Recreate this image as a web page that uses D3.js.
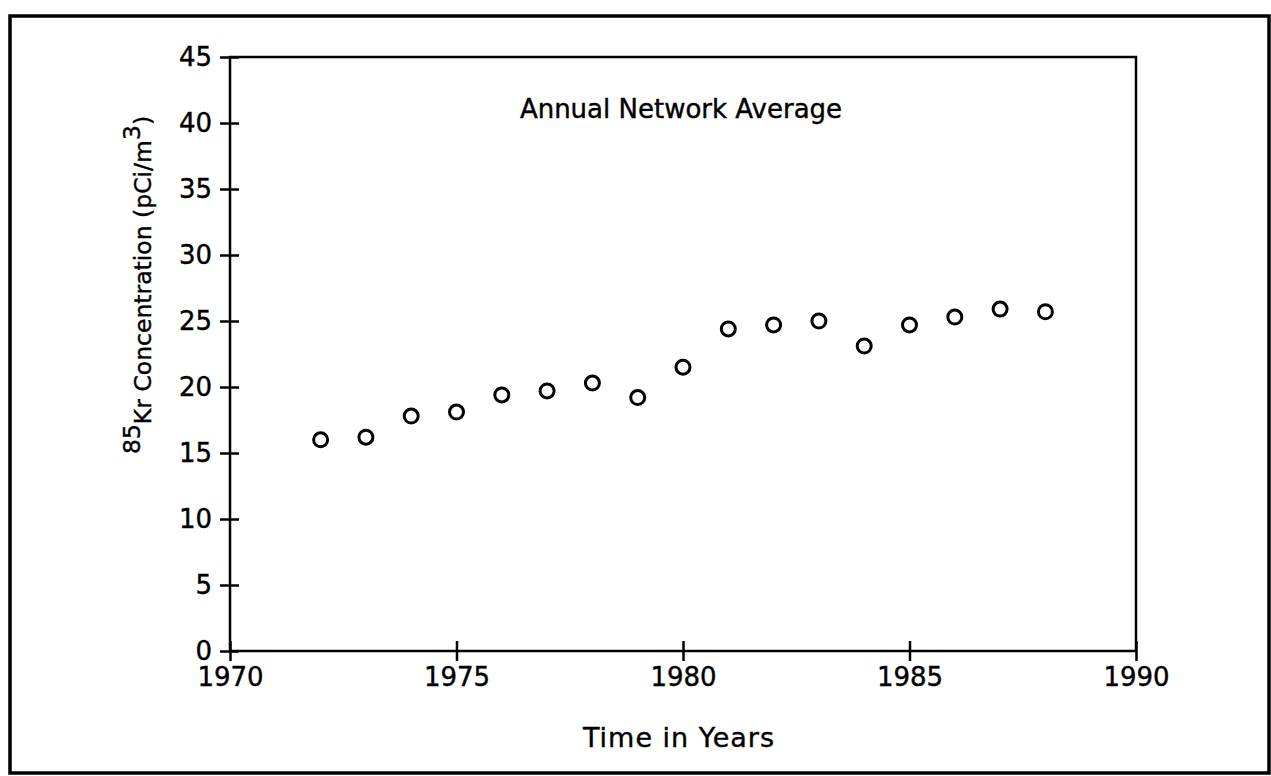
<!DOCTYPE html>
<html>
<head>
<meta charset="utf-8">
<script src="https://cdn.jsdelivr.net/npm/d3@7"></script>
<style>
  body { margin: 0; background: #fff; }
  svg text { font-family: "DejaVu Sans", sans-serif; fill: #000; stroke: #000; stroke-width: 0.4px; }
</style>
</head>
<body>
<svg id="chart" width="1271" height="776"></svg>
<script>
const years = [1972,1973,1974,1975,1976,1977,1978,1979,1980,1981,1982,1983,1984,1985,1986,1987,1988];
const concentration = [16.0,16.2,17.8,18.1,19.4,19.7,20.3,19.2,21.5,24.4,24.7,25.0,23.1,24.7,25.3,25.9,25.7];
const xTicks = [1970,1975,1980,1985,1990];
const yTicks = [0,5,10,15,20,25,30,35,40,45];

const FONT = "'DejaVu Sans', sans-serif";
const svg = d3.select("#chart");
const margin = {left: 230, right: 1136, top: 57, bottom: 651};

const x = d3.scaleLinear().domain([1970, 1990]).range([margin.left, margin.right]);
const y = d3.scaleLinear().domain([0, 45]).range([margin.bottom, margin.top]);

// outer frame
svg.append("rect")
  .attr("x", 10).attr("y", 16).attr("width", 1259).attr("height", 757)
  .attr("fill", "none").attr("stroke", "#000").attr("stroke-width", 3.5);

// plot box
svg.append("rect")
  .attr("x", margin.left).attr("y", margin.top)
  .attr("width", margin.right - margin.left).attr("height", margin.bottom - margin.top)
  .attr("fill", "none").attr("stroke", "#000").attr("stroke-width", 2.5);

// x axis
const xAxis = svg.append("g").attr("transform", `translate(0,${margin.bottom})`)
  .call(d3.axisBottom(x).tickValues(xTicks).tickFormat(d3.format("d")).tickSize(10).tickPadding(7));
xAxis.attr("font-size", null).attr("font-family", null);
xAxis.select(".domain").remove();
xAxis.selectAll(".tick line").attr("y1", -10).attr("stroke-width", 2.5);
xAxis.selectAll(".tick text").attr("font-size", 26).style("font-family", FONT);

// y axis
const yAxis = svg.append("g").attr("transform", `translate(${margin.left},0)`)
  .call(d3.axisLeft(y).tickValues(yTicks).tickSize(10).tickPadding(8));
yAxis.attr("font-size", null).attr("font-family", null);
yAxis.select(".domain").remove();
yAxis.selectAll(".tick line").attr("x1", -10).attr("x2", 9).attr("stroke-width", 2.5);
yAxis.selectAll(".tick text").attr("font-size", 26).style("font-family", FONT);

// points
svg.append("g").selectAll("circle")
  .data(years.map((d, i) => ({year: d, v: concentration[i]})))
  .join("circle")
  .attr("cx", d => x(d.year)).attr("cy", d => y(d.v))
  .attr("r", 7).attr("fill", "none").attr("stroke", "#000").attr("stroke-width", 3);

// title inside plot
svg.append("text").attr("x", 681).attr("y", 118).attr("text-anchor", "middle")
  .attr("font-size", 26).style("font-family", FONT).text("Annual Network Average");

// x label
svg.append("text").attr("x", 679).attr("y", 747).attr("text-anchor", "middle")
  .attr("font-size", 27).attr("letter-spacing", 1).style("font-family", FONT).text("Time in Years");

// y label
const yl = svg.append("text").attr("transform", "translate(151,285) rotate(-90)")
  .attr("text-anchor", "middle").attr("font-size", 23.5).style("font-family", FONT);
yl.append("tspan").attr("dy", "-0.45em").text("85");
yl.append("tspan").attr("dy", "0.45em").text("Kr Concentration (pCi/m");
yl.append("tspan").attr("dy", "-0.45em").text("3");
yl.append("tspan").attr("dy", "0.45em").text(")");
</script>
</body>
</html>
